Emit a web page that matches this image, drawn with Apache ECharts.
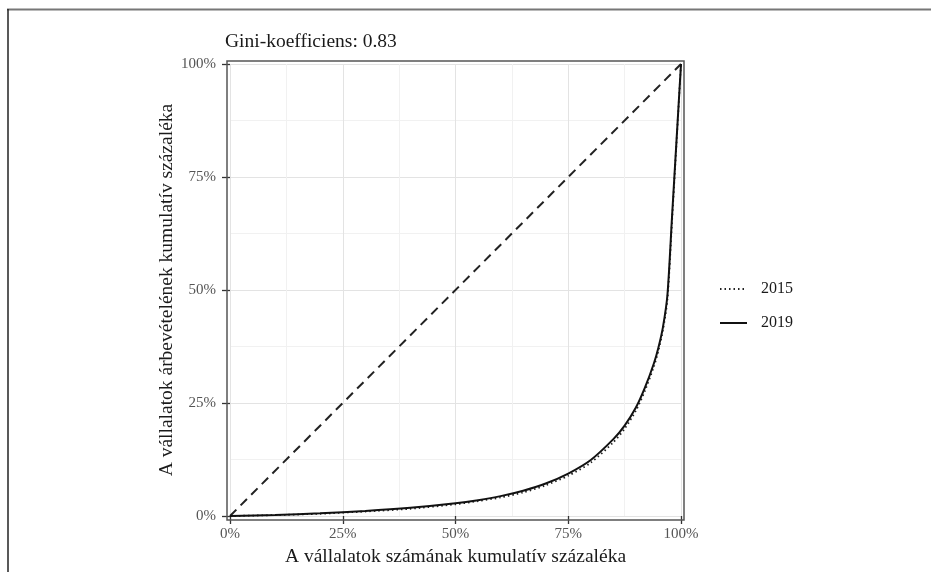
<!DOCTYPE html>
<html>
<head>
<meta charset="utf-8">
<script src="https://cdn.jsdelivr.net/npm/echarts@6/dist/echarts.min.js"></script>
<style>
  html, body { margin: 0; padding: 0; background: #fff; }
  #main { width: 931px; height: 572px; }
</style>
</head>
<body>
<div id="main"></div>
<script>
// cumulative share of firms (x) and of revenue (y)
var shareFirms = [0, 0.1, 0.2, 0.3, 0.4, 0.5, 0.55, 0.6, 0.65, 0.7, 0.75, 0.8, 0.85,
  0.875, 0.9, 0.92, 0.94, 0.95, 0.96, 0.97, 0.98, 0.99, 1];
var revenue2019 = [0, 0.002, 0.006, 0.011, 0.018, 0.028, 0.035, 0.044, 0.056, 0.072, 0.094, 0.124, 0.170,
  0.200, 0.240, 0.284, 0.338, 0.373, 0.418, 0.490, 0.660, 0.830, 1];
var revenue2015 = [0, 0.002, 0.005, 0.010, 0.016, 0.026, 0.033, 0.041, 0.052, 0.068, 0.089, 0.118, 0.163,
  0.193, 0.233, 0.277, 0.331, 0.366, 0.411, 0.480, 0.650, 0.825, 1];
var equality = [[0, 0], [1, 1]];
var years = ['2015', '2019'];
var giniText = 'Gini-koefficiens: 0.83';

function pairs(xs, ys) {
  return xs.map(function (x, i) { return [x, ys[i]]; });
}
function pct(v) { return Math.round(v * 100) + '%'; }

var serif = 'Liberation Serif';
var chart = echarts.init(document.getElementById('main'));

var option = {
  backgroundColor: '#fff',
  animation: false,
  textStyle: { fontFamily: serif },
  title: {
    text: giniText,
    left: 220, top: 27,
    textStyle: { fontFamily: serif, fontSize: 19.5, fontWeight: 'normal', color: '#1a1a1a' }
  },
  legend: {
    data: years,
    orient: 'vertical',
    left: 714, top: 276,
    itemWidth: 27, itemHeight: 14, itemGap: 18,
    itemStyle: { opacity: 0 },
    textStyle: { fontFamily: serif, fontSize: 16, color: '#1a1a1a', padding: [0, 0, 0, 9] }
  },
  grid: { left: 230, right: 250, top: 64, bottom: 56 },
  xAxis: {
    type: 'value', min: 0, max: 1, interval: 0.25,
    name: 'A vállalatok számának kumulatív százaléka',
    nameLocation: 'middle', nameGap: 30,
    nameTextStyle: { fontFamily: serif, fontSize: 19.5, color: '#1a1a1a' },
    axisLine: { show: false },
    axisTick: { show: true, length: 8, lineStyle: { color: '#333', width: 1.3 } },
    axisLabel: { formatter: pct, margin: 11, fontFamily: serif, fontSize: 15, color: '#555' },
    splitLine: { lineStyle: { color: '#e3e3e3', width: 1 } },
    minorTick: { show: false, splitNumber: 2 },
    minorSplitLine: { show: true, lineStyle: { color: '#f1f1f1', width: 1 } }
  },
  yAxis: {
    type: 'value', min: 0, max: 1, interval: 0.25,
    name: 'A vállalatok árbevételének kumulatív százaléka',
    nameLocation: 'middle', nameGap: 39, nameRotate: 90,
    nameTextStyle: { fontFamily: serif, fontSize: 19.5, color: '#1a1a1a' },
    axisLine: { show: false },
    axisTick: { show: true, length: 8, lineStyle: { color: '#333', width: 1.3 } },
    axisLabel: { formatter: pct, margin: 14, fontFamily: serif, fontSize: 15, color: '#555' },
    splitLine: { lineStyle: { color: '#e3e3e3', width: 1 } },
    minorTick: { show: false, splitNumber: 2 },
    minorSplitLine: { show: true, lineStyle: { color: '#f1f1f1', width: 1 } }
  },
  series: [
    {
      name: 'equality', type: 'line', data: equality, symbol: 'none',
      lineStyle: { color: '#222', width: 2, type: [9, 6] }, z: 3
    },
    {
      name: '2015', type: 'line', data: pairs(shareFirms, revenue2015), symbol: 'none',
      smooth: 0.25,
      itemStyle: { color: '#222' },
      lineStyle: { color: '#222', width: 1.8, type: [1.5, 3] }, z: 4
    },
    {
      name: '2019', type: 'line', data: pairs(shareFirms, revenue2019), symbol: 'none',
      smooth: 0.25,
      itemStyle: { color: '#111' },
      lineStyle: { color: '#111', width: 2 }, z: 5
    }
  ],
  graphic: [
    // panel border (slightly wider than data range, like ggplot's expansion)
    { type: 'rect', shape: { x: 227, y: 61, width: 457, height: 459 },
      style: { fill: 'none', stroke: '#555', lineWidth: 1.5 }, z: 10 },
    // scan frame lines
    { type: 'line', shape: { x1: 7, y1: 9.5, x2: 931, y2: 9.5 },
      style: { stroke: '#777', lineWidth: 2 } },
    { type: 'line', shape: { x1: 8, y1: 9, x2: 8, y2: 572 },
      style: { stroke: '#222', lineWidth: 1.5 } }
  ]
};

chart.setOption(option);
</script>
</body>
</html>
